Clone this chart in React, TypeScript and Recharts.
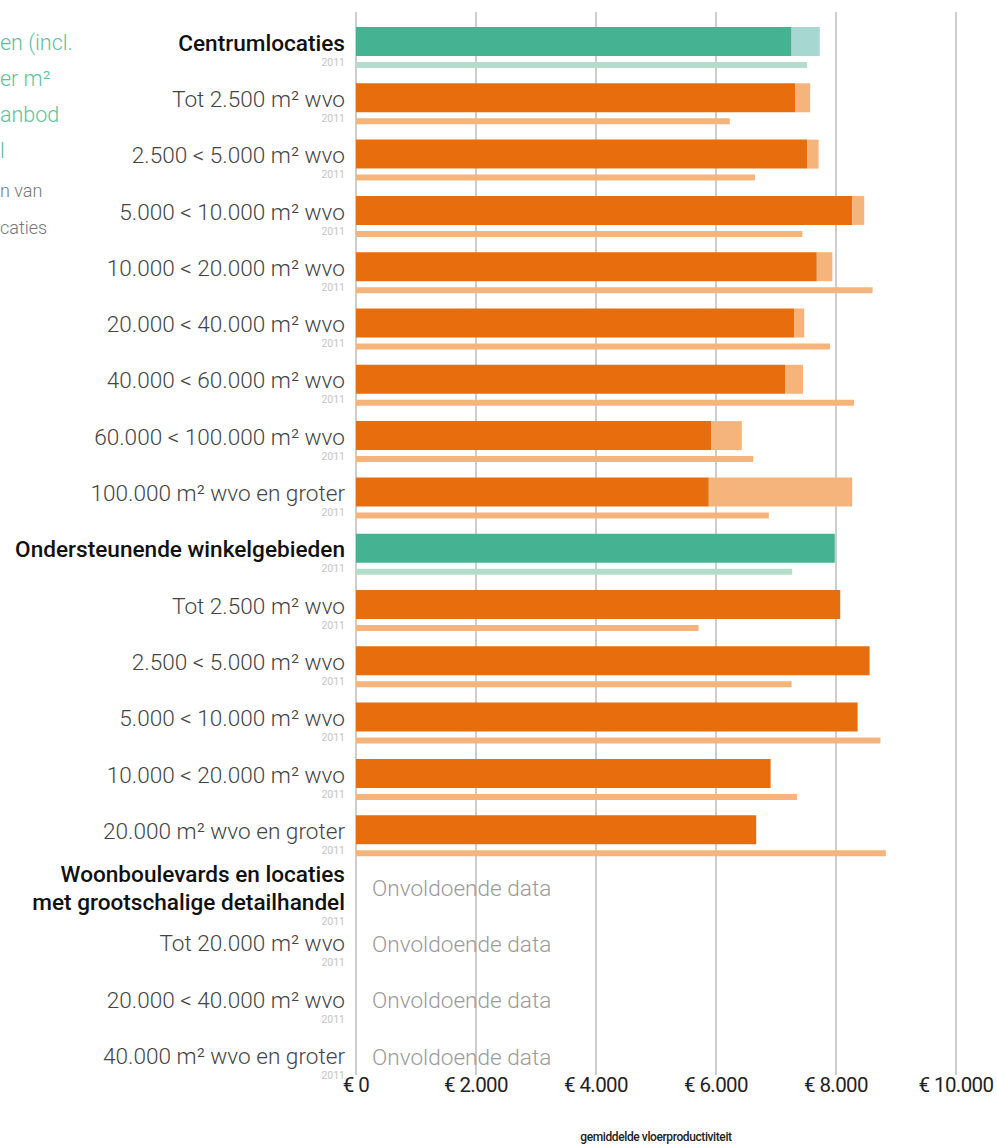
import React from 'react';
import { BarChart, Bar, XAxis, YAxis, CartesianGrid, Cell, Label } from 'recharts';

const categories = [
  'Centrumlocaties',
  'Tot 2.500 m² wvo',
  '2.500 < 5.000 m² wvo',
  '5.000 < 10.000 m² wvo',
  '10.000 < 20.000 m² wvo',
  '20.000 < 40.000 m² wvo',
  '40.000 < 60.000 m² wvo',
  '60.000 < 100.000 m² wvo',
  '100.000 m² wvo en groter',
  'Ondersteunende winkelgebieden',
  'Tot 2.500 m² wvo',
  '2.500 < 5.000 m² wvo',
  '5.000 < 10.000 m² wvo',
  '10.000 < 20.000 m² wvo',
  '20.000 m² wvo en groter',
  'Woonboulevards en locaties|met grootschalige detailhandel',
  'Tot 20.000 m² wvo',
  '20.000 < 40.000 m² wvo',
  '40.000 m² wvo en groter',
];
const isHeader = [true, false, false, false, false, false, false, false, false, true, false, false, false, false, false, true, false, false, false];
// current floor productivity (dark bar)
const currentValues = [7260, 7320, 7520, 8270, 7680, 7300, 7150, 5920, 5880, 7980, 8070, 8560, 8360, 6910, 6670, null, null, null, null];
// upper value (end of light extension)
const upperValues = [7730, 7570, 7710, 8470, 7940, 7470, 7450, 6430, 8270, 7980, 8070, 8560, 8360, 6910, 6670, null, null, null, null];
const values2011 = [7520, 6230, 6650, 7440, 8610, 7900, 8300, 6620, 6880, 7270, 5710, 7260, 8740, 7350, 8830, null, null, null, null];
const xTicks = [0, 2000, 4000, 6000, 8000, 10000];
const yearLabel = '2011';
const noDataText = 'Onvoldoende data';
const axisTitle = 'gemiddelde vloerproductiviteit';
const introGreen = ['en (incl.', 'er m²', 'anbod', 'l'];
const introGray = ['n van', 'caties'];

const GREEN = '#45b292';
const GREEN_LIGHT = '#a6d7d1';
const GREEN_2011 = '#b4dccd';
const ORANGE = '#e86e0d';
const ORANGE_LIGHT = '#f5b47b';

const data = categories.map((c, i) => ({
  key: 'r' + i,
  current: currentValues[i],
  extra: upperValues[i] != null && currentValues[i] != null ? (upperValues[i] as number) - (currentValues[i] as number) : null,
  y2011: values2011[i],
}));

const FONT = 'Roboto, "Noto Sans", sans-serif';
const LABEL_SIZE = 22.6;

const fmt = (v: number) => '€ ' + String(v).replace(/\B(?=(\d{3})+(?!\d))/g, '.');

const YTick = (props: any) => {
  const { x, y, payload } = props;
  const i = data.findIndex((d) => d.key === payload.value);
  if (i < 0) return null;
  const header = isHeader[i];
  const lines = categories[i].split('|');
  const noData = currentValues[i] == null;
  return (
    <g>
      {lines.length === 1 ? (
        <text x={x} y={y + 3.5} textAnchor="end" fontFamily={FONT} fontSize={LABEL_SIZE} fontWeight={header ? 500 : 300} fill={header ? '#111' : '#444'}>
          {lines[0]}
        </text>
      ) : (
        lines.map((l, k) => (
          <text key={k} x={x} y={y - 10 + k * 28} textAnchor="end" fontFamily={FONT} fontSize={LABEL_SIZE} fontWeight={500} fill="#111">
            {l}
          </text>
        ))
      )}
      <text x={x} y={lines.length === 1 ? y + 18.5 : y + 33} textAnchor="end" fontFamily={FONT} fontSize={10.5} fill="#c4c4c4">
        {yearLabel}
      </text>
      {noData && (
        <text x={x + 27} y={y + 4} textAnchor="start" fontFamily={FONT} fontSize={LABEL_SIZE} fontWeight={300} fill="#9a9a9a">
          {noDataText}
        </text>
      )}
    </g>
  );
};

const XTick = (props: any) => {
  const { x, y, payload } = props;
  return (
    <text x={x} y={y + 17} textAnchor="middle" fontFamily={FONT} fontSize={20.5} fill="#222" letterSpacing={-0.6}>
      {fmt(payload.value)}
    </text>
  );
};

export default function App() {
  return (
    <div style={{ position: 'absolute', left: 0, top: 0, width: 997, height: 1145, background: '#fff' }}>
      <svg width={200} height={260} style={{ position: 'absolute', left: 0, top: 0 }}>
        {introGreen.map((t, k) => (
          <text key={'g' + k} x={0} y={50 + k * 36} fontFamily={FONT} fontSize={21.5} fontWeight={300} fill="#5cc29e">
            {t}
          </text>
        ))}
        {introGray.map((t, k) => (
          <text key={'r' + k} x={0} y={197 + k * 37} fontFamily={FONT} fontSize={18} fontWeight={300} fill="#777">
            {t}
          </text>
        ))}
      </svg>
      <div style={{ position: 'absolute', left: 0, top: 0 }}>
        <BarChart
          width={997}
          height={1145}
          data={data}
          layout="vertical"
          margin={{ top: 12, right: 41, bottom: 0, left: 0 }}
          barGap={6}
        >
          <CartesianGrid horizontal={false} vertical={true} stroke="#bdbdbd" strokeWidth={1.5} />
          <XAxis
            type="number"
            domain={[0, 10000]}
            ticks={xTicks}
            height={70}
            axisLine={false}
            tickLine={false}
            tickSize={0}
            tickMargin={0}
            tick={<XTick />}
            interval={0}
          >
            <Label
              content={(p: any) => {
                const vb = p.viewBox || {};
                return (
                  <text x={vb.x + vb.width / 2} y={vb.y + 66} textAnchor="middle" fontFamily={FONT} fontSize={12} fontWeight={500} fill="#222" letterSpacing={-0.4}>
                    {axisTitle}
                  </text>
                );
              }}
            />
          </XAxis>
          <YAxis
            type="category"
            dataKey="key"
            width={356}
            axisLine={false}
            tickLine={false}
            tickSize={0}
            tickMargin={11}
            tick={<YTick />}
            interval={0}
            padding={{ top: 7, bottom: -13.7 }}
          />
          <Bar dataKey="current" stackId="a" barSize={29} isAnimationActive={false}>
            {data.map((d, i) => (
              <Cell key={i} fill={isHeader[i] ? GREEN : ORANGE} />
            ))}
          </Bar>
          <Bar dataKey="extra" stackId="a" barSize={29} isAnimationActive={false}>
            {data.map((d, i) => (
              <Cell key={i} fill={isHeader[i] ? GREEN_LIGHT : ORANGE_LIGHT} />
            ))}
          </Bar>
          <Bar dataKey="y2011" barSize={6} isAnimationActive={false}>
            {data.map((d, i) => (
              <Cell key={i} fill={isHeader[i] ? GREEN_2011 : ORANGE_LIGHT} />
            ))}
          </Bar>
        </BarChart>
      </div>
    </div>
  );
}
